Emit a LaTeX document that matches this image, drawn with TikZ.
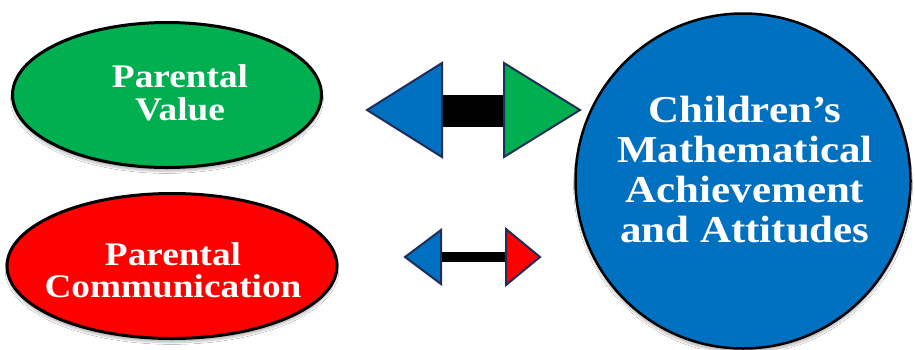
\documentclass[tikz,border=0pt]{standalone}
\usepackage{fontspec}
\setmainfont{Liberation Serif}[FakeStretch=1.13]
\usetikzlibrary{shapes.geometric,shadows.blur}
\definecolor{pgreen}{RGB}{0,176,80}
\definecolor{pred}{RGB}{255,0,0}
\definecolor{pblue}{RGB}{0,112,192}
\definecolor{navy}{RGB}{31,45,90}
\tikzset{
  blob/.style={ellipse, draw=black, line width=3pt, inner sep=0pt,
    blur shadow={shadow xshift=0pt, shadow yshift=-4pt, shadow blur steps=6, shadow opacity=25}},
  lbl/.style={text=white, align=center, anchor=base, inner sep=0pt},
  tri/.style={draw=navy, line width=2pt, line join=miter}
}
\begin{document}
\begin{tikzpicture}[x=1pt,y=-1pt]
\useasboundingbox (0,0) rectangle (915,349);
\fill[white] (0,0) rectangle (915,349);
\node[blob, fill=pgreen, minimum width=309pt, minimum height=145pt] (val) at (167,95) {};
\node[lbl, font=\bfseries\fontsize{33}{33}\selectfont] (valt) at (180,120) {Parental\\ Value};
\node[blob, fill=pred, minimum width=330pt, minimum height=145pt] (com) at (172,266) {};
\node[lbl, font=\bfseries\fontsize{33}{32}\selectfont] (comt) at (173,297) {Parental\\ Communication};
\node[circle, draw=black, line width=2.5pt, fill=pblue, minimum size=335pt, inner sep=0pt,
  blur shadow={shadow xshift=0pt, shadow yshift=-4pt, shadow blur steps=6, shadow opacity=25}] (kid) at (743,181) {};
\node[lbl, font=\bfseries\fontsize{38}{40}\selectfont] (kidt) at (745,242)
  {Children’s\\ Mathematical\\ Achievement\\ and Attitudes};
% big arrow
\coordinate (a1) at (367,110);
\coordinate (a2) at (580,110);
\fill[black] (440,95) rectangle (506,127);
\filldraw[tri, fill=pblue] (a1) -- (442,63) -- (442,157) -- cycle;
\filldraw[tri, fill=pgreen] (a2) -- (504,63) -- (504,157) -- cycle;
% small arrow
\coordinate (b1) at (405,257);
\coordinate (b2) at (540,257);
\fill[black] (440,252) rectangle (507,262);
\filldraw[tri, fill=pblue] (b1) -- (441,230) -- (441,284) -- cycle;
\filldraw[tri, fill=pred] (b2) -- (506,229) -- (506,285) -- cycle;
\end{tikzpicture}
\end{document}
